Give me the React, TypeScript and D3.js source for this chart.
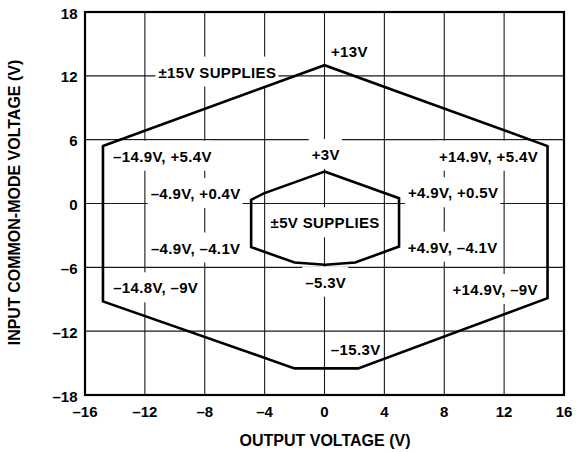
import React, { useEffect, useRef } from "react";
import * as d3 from "d3";

const xTicks = [-16, -12, -8, -4, 0, 4, 8, 12, 16];
const yTicks = [-18, -12, -6, 0, 6, 12, 18];
const xTickLabels = ["–16", "–12", "–8", "–4", "0", "4", "8", "12", "16"];
const yTickLabels = ["–18", "–12", "–6", "0", "6", "12", "18"];

// ±15V supplies boundary (output V, input common-mode V)
const outerX = [-14.8, 0, 14.9, 14.9, 2.25, -2, -14.8];
const outerY = [5.4, 13, 5.4, -8.9, -15.5, -15.5, -9.2];

// ±5V supplies boundary
const innerX = [0, 4.98, 4.98, 2.05, 0.05, -2, -4.9, -4.9, -4.05];
const innerY = [3, 0.5, -4.05, -5.55, -5.75, -5.55, -4.1, 0.35, 0.95];

const labelText = [
  "±15V SUPPLIES", "+13V", "–14.9V, +5.4V", "+3V", "+14.9V, +5.4V",
  "–4.9V, +0.4V", "+4.9V, +0.5V", "±5V SUPPLIES", "–4.9V, –4.1V",
  "+4.9V, –4.1V", "–5.3V", "–14.8V, –9V", "+14.9V, –9V", "–15.3V",
];
const labelX = [-7.17, 1.65, -10.84, 0.07, 10.94, -8.62, 8.58, 0.03, -8.62, 8.55, 0.07, -11.29, 11.39, 2.07];
const labelY = [11.84, 13.8, 3.93, 4.09, 3.93, 0.42, 0.49, -2.33, -4.7, -4.62, -7.91, -8.44, -8.6, -14.24];

const xTitle = "OUTPUT VOLTAGE (V)";
const yTitle = "INPUT COMMON-MODE VOLTAGE (V)";

const W = 576, H = 452;
const FONT = "'Liberation Sans', Arial, Helvetica, sans-serif";

export default function App() {
  const ref = useRef<SVGSVGElement | null>(null);

  useEffect(() => {
    const svg = d3.select(ref.current);
    svg.selectAll("*").remove();

    const x = d3.scaleLinear().domain([-16, 16]).range([85, 564]);
    const y = d3.scaleLinear().domain([-18, 18]).range([395, 12]);

    // gridlines
    const grid = svg.append("g").attr("stroke", "#1a1a1a").attr("stroke-width", 1.1);
    xTicks.slice(1, -1).forEach((t) => {
      grid.append("line").attr("x1", x(t)).attr("x2", x(t)).attr("y1", y(18)).attr("y2", y(-18));
    });
    yTicks.slice(1, -1).forEach((t) => {
      grid.append("line").attr("x1", x(-16)).attr("x2", x(16)).attr("y1", y(t)).attr("y2", y(t));
    });

    // labels with white boxes
    const boxes = svg.append("g");
    const texts = svg.append("g")
      .attr("font-family", FONT).attr("font-weight", "bold").attr("font-size", 15)
      .attr("letter-spacing", 0.35)
      .attr("text-anchor", "middle").attr("fill", "#000");

    const nodes = labelText.map((s, i) =>
      texts.append("text").attr("x", x(labelX[i]) + 0.2).attr("y", y(labelY[i])).text(s)
    );
    nodes.forEach((n) => {
      const bb = (n.node() as SVGTextElement).getBBox();
      const base = +n.attr("y");
      boxes.append("rect")
        .attr("x", bb.x - 3).attr("width", bb.width + 5)
        .attr("y", base - 11 - 10).attr("height", 11 + 10 + 9)
        .attr("fill", "#fff");
    });

    // polygons
    const outerPts: [number, number][] = outerX.map((v, i) => [x(v), y(outerY[i])]);
    const innerPts: [number, number][] = innerX.map((v, i) => [x(v), y(innerY[i])]);
    const poly = d3.line().curve(d3.curveLinearClosed);
    svg.append("path").attr("d", poly(outerPts)).attr("fill", "none")
      .attr("stroke", "#000").attr("stroke-width", 2.6).attr("stroke-linejoin", "miter");
    svg.append("path").attr("d", poly(innerPts)).attr("fill", "none")
      .attr("stroke", "#000").attr("stroke-width", 2.6).attr("stroke-linejoin", "miter");

    texts.raise();

    // frame
    svg.append("rect").attr("x", x(-16)).attr("y", y(18))
      .attr("width", x(16) - x(-16)).attr("height", y(-18) - y(18))
      .attr("fill", "none").attr("stroke", "#000").attr("stroke-width", 2.2);

    // tick labels
    const tk = svg.append("g").attr("font-family", FONT).attr("font-weight", "bold")
      .attr("font-size", 15).attr("fill", "#000");
    xTicks.forEach((t, i) => {
      tk.append("text").attr("x", x(t)).attr("y", 416.5).attr("text-anchor", "middle").text(xTickLabels[i]);
    });
    yTicks.forEach((t, i) => {
      tk.append("text").attr("x", 77.5).attr("y", y(t) + 6.5).attr("text-anchor", "end").text(yTickLabels[i]);
    });

    // axis titles
    svg.append("text").attr("x", 325).attr("y", 446).attr("text-anchor", "middle")
      .attr("font-family", FONT).attr("font-weight", "bold").attr("font-size", 16).text(xTitle);
    svg.append("text").attr("transform", `translate(19.5,${202.5}) rotate(-90)`)
      .attr("text-anchor", "middle")
      .attr("font-family", FONT).attr("font-weight", "bold").attr("font-size", 16).text(yTitle);
  }, []);

  return (
    <svg ref={ref} width={W} height={H}
      style={{ position: "absolute", left: 0, top: 0, background: "#fff" }} />
  );
}
